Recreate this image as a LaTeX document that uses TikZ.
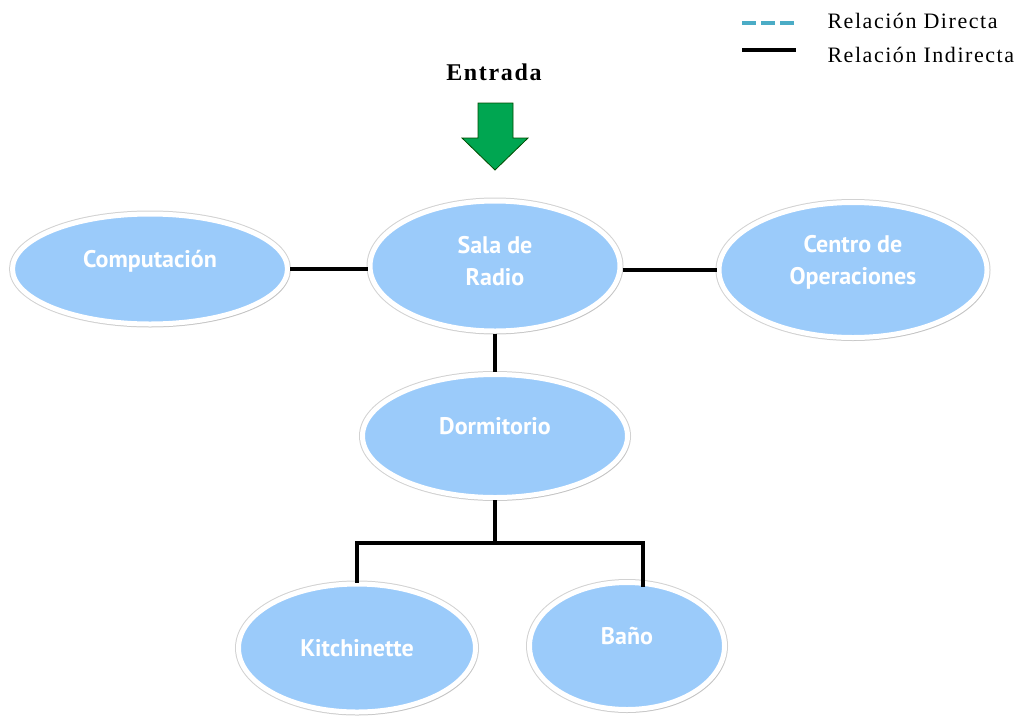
\documentclass[tikz,border=0pt]{standalone}
\usepackage{fontspec}
\setmainfont{Liberation Serif}
\newfontfamily\nodefont{PT Sans}
\newfontfamily\legfont[LetterSpace=7]{Liberation Serif}
\usetikzlibrary{shadows,shapes.geometric}
\definecolor{roomblue}{RGB}{155,203,250}
\definecolor{rimgray}{RGB}{210,210,210}
\definecolor{arrowgreen}{RGB}{0,166,81}
\definecolor{dashblue}{RGB}{75,172,198}
\tikzset{
  room/.style={ellipse, inner sep=0pt, fill=roomblue, draw=white, line width=5pt,
    preaction={draw=rimgray, line width=7pt},
    drop shadow={opacity=0.18, shadow xshift=2pt, shadow yshift=-3pt}},
  roomtext/.style={text=white, font=\nodefont\bfseries\fontsize{24}{32}\selectfont, align=center},
  link/.style={line width=3.6pt, black},
  legtext/.style={font=\legfont\fontsize{22}{24}\selectfont, anchor=west}
}
\begin{document}
\begin{tikzpicture}[x=1pt,y=-1pt]
\useasboundingbox (0,0) rectangle (1016,715);
% rooms
\node[room, minimum width=275pt, minimum height=110pt,
  label={[roomtext, yshift=8pt]center:Computación}] (comp) at (150,269) {};
\node[room, minimum width=250pt, minimum height=130pt,
  label={[roomtext, yshift=5pt]center:Sala de\\Radio}] (sala) at (495,266) {};
\node[room, minimum width=268pt, minimum height=135pt,
  label={[roomtext, yshift=8pt]center:Centro de\\Operaciones}] (centro) at (853,270) {};
\node[room, minimum width=265pt, minimum height=123pt,
  label={[roomtext, yshift=10pt]center:Dormitorio}] (dorm) at (495,436) {};
\node[room, minimum width=237pt, minimum height=128pt,
  label={[roomtext]center:Kitchinette}] (kit) at (357,648) {};
\node[room, minimum width=195pt, minimum height=127pt,
  label={[roomtext, yshift=10pt]center:Baño}] (bano) at (627,646) {};
% connectors
\coordinate (j) at (495,543);
\coordinate (bt) at (643,585);
\draw[link] (comp.east) -- (comp.east -| sala.west);
\draw[link] (sala.east |- centro.west) -- (centro.west);
\draw[link] (sala.south) -- (dorm.north);
\draw[link] (dorm.south) -- (j);
\draw[link, line cap=rect] (kit.north) |- (j) -| (bt);
% entrance
\node[font=\legfont\bfseries\fontsize{24}{26}\selectfont] (entrada) at (494,72) {Entrada};
\draw[fill=arrowgreen, draw=black!70!green, line width=0.8pt]
  (478,103) -- (513,103) -- (513,138) -- (528,138) -- (495,170) -- (462,138) -- (478,138) -- cycle;
% legend
\coordinate (d1) at (742,23); \coordinate (d2) at (796,23);
\coordinate (s1) at (742,50); \coordinate (s2) at (796,50);
\draw[dashblue, line width=3.5pt, dash pattern=on 14pt off 5pt] (d1) -- (d2);
\draw[black, line width=3.5pt] (s1) -- (s2);
\node[legtext] (l1) at (824,21) {Relación Directa};
\node[legtext] (l2) at (824,55) {Relación Indirecta};
\end{tikzpicture}
\end{document}
